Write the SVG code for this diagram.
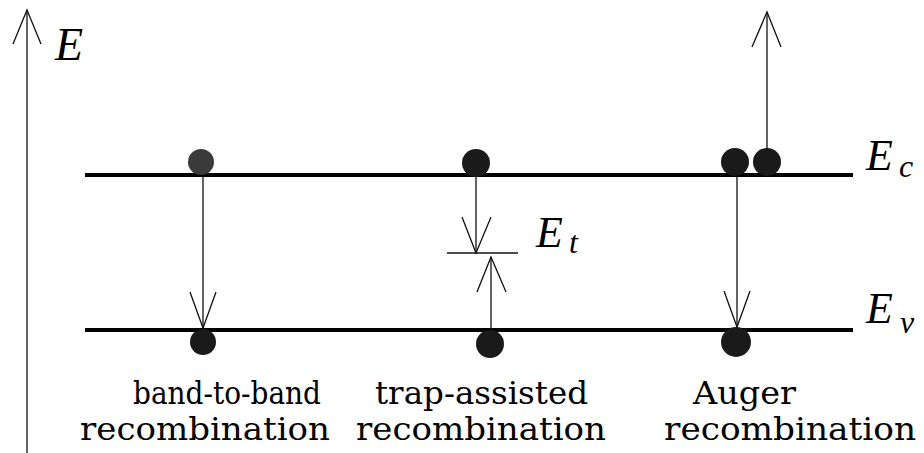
<svg xmlns="http://www.w3.org/2000/svg" width="924" height="453" viewBox="0 0 924 453">
<style>
.thin{stroke:#111;stroke-width:1.3;fill:none}
.band{stroke:#000;stroke-width:4}
.el{fill:#1a1a1a}
.lab{font-family:"DejaVu Serif",serif;font-size:31px;fill:#000}
.sym{font-family:"Liberation Serif","DejaVu Serif",serif;font-style:italic;fill:#000}
</style>
<rect width="924" height="453" fill="#fff"/>
<g id="axis">
<line class="thin" x1="27" y1="10" x2="27" y2="453"/>
<polyline class="thin" points="13,44 27,10 41,44"/>
<text class="sym" x="55" y="60" font-size="46">E</text>
</g>
<g id="bands">
<line class="band" x1="85" y1="175" x2="853" y2="175"/>
<line class="band" x1="85" y1="330" x2="853" y2="330"/>
<text class="sym" x="866" y="170" font-size="44">E</text>
<text class="sym" x="899" y="177" font-size="32">c</text>
<text class="sym" x="866" y="323" font-size="44">E</text>
<text class="sym" x="900" y="333" font-size="32">v</text>
</g>
<g id="band-to-band">
<circle cx="201" cy="162" r="13" fill="#3a3a3a"/>
<circle class="el" cx="203" cy="342" r="13"/>
<text class="lab" x="133" y="404" textLength="188" lengthAdjust="spacingAndGlyphs">band-to-band</text>
<text class="lab" x="80" y="440" textLength="250" lengthAdjust="spacingAndGlyphs">recombination</text>
</g>
<g id="trap-assisted">
<circle class="el" cx="476" cy="163" r="14"/>
<circle class="el" cx="490" cy="344" r="14"/>
<line class="thin" x1="447" y1="253" x2="518" y2="253"/>
<text class="sym" x="536" y="247" font-size="44">E</text>
<text class="sym" x="569" y="253" font-size="32">t</text>
<text class="lab" x="375" y="404" textLength="213" lengthAdjust="spacingAndGlyphs">trap-assisted</text>
<text class="lab" x="356" y="440" textLength="250" lengthAdjust="spacingAndGlyphs">recombination</text>
</g>
<g id="auger">
<circle class="el" cx="735" cy="162" r="14"/>
<circle class="el" cx="767" cy="162" r="14"/>
<circle class="el" cx="736" cy="342" r="15"/>
<text class="lab" x="693" y="404" textLength="103" lengthAdjust="spacingAndGlyphs">Auger</text>
<text class="lab" x="664" y="440" textLength="252" lengthAdjust="spacingAndGlyphs">recombination</text>
</g>
<g id="connectors">
<line class="thin" x1="203" y1="176" x2="203" y2="328"/>
<polyline class="thin" points="190,292 203,328 216,292"/>
<line class="thin" x1="476" y1="177" x2="476" y2="253"/>
<polyline class="thin" points="462,217 476,253 491,217"/>
<line class="thin" x1="491" y1="330" x2="491" y2="257"/>
<polyline class="thin" points="477,292 491,257 506,292"/>
<line class="thin" x1="767" y1="150" x2="767" y2="12"/>
<polyline class="thin" points="752,47 767,12 781,47"/>
<line class="thin" x1="737" y1="176" x2="737" y2="327"/>
<polyline class="thin" points="724,291 737,327 750,291"/>
</g>
</svg>
